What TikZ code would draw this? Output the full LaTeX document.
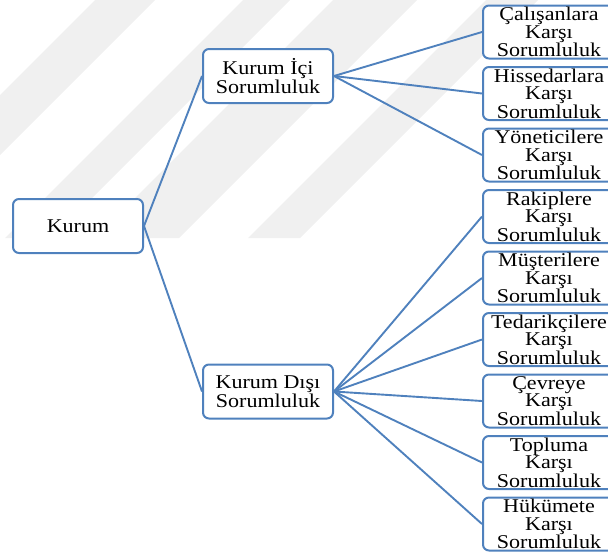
\documentclass[tikz,border=0pt]{standalone}
\usepackage{fontspec}
\setmainfont{Liberation Serif}[FakeStretch=1.13]
\definecolor{boxblue}{HTML}{4F81BD}
\definecolor{wmark}{HTML}{F0F0F0}
\tikzset{
  box/.style={draw=boxblue, fill=white, line width=2pt, rounded corners=6pt,
    align=center, inner sep=0pt, font=\fontsize{19.5pt}{17.5pt}\selectfont},
  midbox/.style={box, minimum width=130pt, minimum height=54pt},
  leafbox/.style={box, minimum width=132pt, minimum height=53pt},
  link/.style={draw=boxblue, line width=1.9pt}
}
\begin{document}
\begin{tikzpicture}[x=1pt,y=-1pt]
\useasboundingbox (0,0) rectangle (608,555);
\clip (0,0) rectangle (608,555);
% faint watermark bands
\begin{scope}
\clip (0,0) rectangle (608,238);
\fill[wmark] (95,0) -- (155,0) -- (0,155) -- (0,95) -- cycle;
\fill[wmark] (243,0) -- (290,0) -- (52,238) -- (5,238) -- cycle;
\fill[wmark] (333,0) -- (417,0) -- (179,238) -- (95,238) -- cycle;
\fill[wmark] (486,0) -- (538,0) -- (300,238) -- (248,238) -- cycle;
\end{scope}
% nodes
\node[midbox] (kurum) at (78,226) {Kurum};
\node[midbox] (ici) at (268,76) {Kurum İçi\\Sorumluluk};
\node[midbox] (disi) at (268,391.5) {Kurum Dışı\\Sorumluluk};
\node[leafbox] (r1) at (549,32) {Çalışanlara\\Karşı\\Sorumluluk};
\node[leafbox] (r2) at (549,93.5) {Hissedarlara\\Karşı\\Sorumluluk};
\node[leafbox] (r3) at (549,155) {Yöneticilere\\Karşı\\Sorumluluk};
\node[leafbox] (r4) at (549,216.5) {Rakiplere\\Karşı\\Sorumluluk};
\node[leafbox] (r5) at (549,278) {Müşterilere\\Karşı\\Sorumluluk};
\node[leafbox] (r6) at (549,339.5) {Tedarikçilere\\Karşı\\Sorumluluk};
\node[leafbox] (r7) at (549,401) {Çevreye\\Karşı\\Sorumluluk};
\node[leafbox] (r8) at (549,462.5) {Topluma\\Karşı\\Sorumluluk};
\node[leafbox] (r9) at (549,524) {Hükümete\\Karşı\\Sorumluluk};
% connectors
\draw[link] (kurum.east) -- (ici.west);
\draw[link] (kurum.east) -- (disi.west);
\foreach \r in {r1,r2,r3}{\draw[link] (ici.east) -- (\r.west);}
\foreach \r in {r4,r5,r6,r7,r8,r9}{\draw[link] (disi.east) -- (\r.west);}
\end{tikzpicture}
\end{document}
